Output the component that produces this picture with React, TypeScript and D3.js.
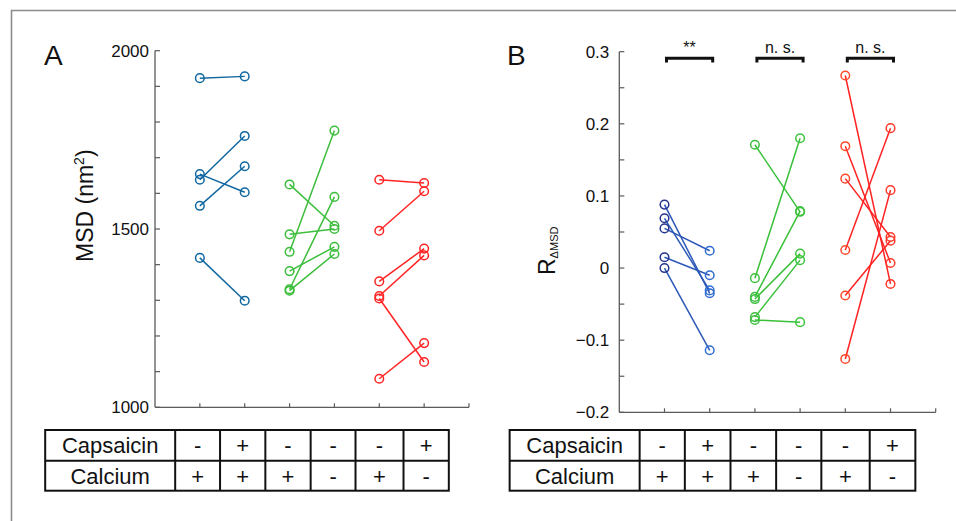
import React from "react";
import * as d3 from "d3";

// ---------- data ----------
const groupPositions = [1, 2, 3, 4, 5, 6];

// Panel A: MSD (nm^2), paired before/after values
const blueA_pre = [1923, 1654, 1638, 1565, 1419];
const blueA_post = [1928, 1603, 1761, 1676, 1299];
const greenA_pre = [1625, 1485, 1436, 1382, 1331, 1327];
const greenA_post = [1509, 1500, 1776, 1450, 1590, 1430];
const redA_pre = [1638, 1495, 1353, 1312, 1305, 1080];
const redA_post = [1629, 1606, 1445, 1426, 1127, 1180];

// Panel B: R_ΔMSD
const blueB_pre = [0.088, 0.069, 0.055, 0.015, 0.0];
const blueB_post = [-0.035, -0.031, 0.024, -0.01, -0.114];
const greenB_pre = [0.171, -0.014, -0.04, -0.043, -0.068, -0.072];
const greenB_post = [0.078, 0.18, 0.079, 0.02, 0.011, -0.075];
const redB_pre = [0.267, 0.169, 0.124, 0.025, -0.038, -0.126];
const redB_post = [-0.022, 0.007, 0.043, 0.194, 0.038, 0.108];

const yTicksA = [1000, 1500, 2000];
const yMinorA = [1000, 1100, 1200, 1300, 1400, 1500, 1600, 1700, 1800, 1900, 2000];
const yTicksB = [-0.2, -0.1, 0, 0.1, 0.2, 0.3];
const yMinorB = [-0.2, -0.15, -0.1, -0.05, 0, 0.05, 0.1, 0.15, 0.2, 0.25, 0.3];

const significance = ["**", "n. s.", "n. s."];
const rowLabels = ["Capsaicin", "Calcium"];
const capsaicinSigns = ["-", "+", "-", "-", "-", "+"];
const calciumSigns = ["+", "+", "+", "-", "+", "-"];

// ---------- styling ----------
const FONT = "Liberation Sans, Arial, Helvetica, sans-serif";
const AXIS = "#5a5a5a";

type Series = { pre: number[]; post: number[]; x0: number; x1: number; line: string; mPre: string; mPost: string };

const seriesA: Series[] = [
  { pre: blueA_pre, post: blueA_post, x0: groupPositions[0], x1: groupPositions[1], line: "#11679f", mPre: "#11679f", mPost: "#11679f" },
  { pre: greenA_pre, post: greenA_post, x0: groupPositions[2], x1: groupPositions[3], line: "#3cbe3c", mPre: "#3cbe3c", mPost: "#3cbe3c" },
  { pre: redA_pre, post: redA_post, x0: groupPositions[4], x1: groupPositions[5], line: "#ff2424", mPre: "#ff2424", mPost: "#ff2424" },
];
const seriesB: Series[] = [
  { pre: blueB_pre, post: blueB_post, x0: groupPositions[0], x1: groupPositions[1], line: "#2c58b8", mPre: "#26358f", mPost: "#2f6dd0" },
  { pre: greenB_pre, post: greenB_post, x0: groupPositions[2], x1: groupPositions[3], line: "#38c038", mPre: "#3fbe3f", mPost: "#3cc43c" },
  { pre: redB_pre, post: redB_post, x0: groupPositions[4], x1: groupPositions[5], line: "#ff2222", mPre: "#ff4a2a", mPost: "#ff3a2a" },
];

const colEdges = [0.45, 1.45, 2.46, 3.47, 4.47, 5.54, 6.55];

function Table({ x }: { x: d3.ScaleLinear<number, number> }) {
  const top = 430, mid = 460.7, bot = 490.7;
  const left = x(colEdges[0]) - 130;
  const right = x(colEdges[colEdges.length - 1]);
  const labelCx = (left + x(colEdges[0])) / 2;
  const rows = [capsaicinSigns, calciumSigns];
  const rowCy = [(top + mid) / 2, (mid + bot) / 2];
  return (
    <g>
      <rect x={left} y={top} width={right - left} height={bot - top} fill="none" stroke="#111" strokeWidth={2} />
      <line x1={left} x2={right} y1={mid} y2={mid} stroke="#111" strokeWidth={2} />
      {colEdges.slice(0, -1).map((e, i) => (
        <line key={i} x1={x(e)} x2={x(e)} y1={top} y2={bot} stroke="#111" strokeWidth={2} />
      ))}
      {rowLabels.map((l, i) => (
        <text key={l} x={labelCx} y={rowCy[i]} dy="0.36em" textAnchor="middle" fontSize={22} fontFamily={FONT} fill="#111">
          {l}
        </text>
      ))}
      {rows.map((signs, r) =>
        signs.map((s, i) => (
          <text key={r + "-" + i} x={(x(colEdges[i]) + x(colEdges[i + 1])) / 2} y={rowCy[r]} dy="0.36em" textAnchor="middle" fontSize={22} fontFamily={FONT} fill="#111">
            {s}
          </text>
        ))
      )}
    </g>
  );
}

function Points({ series, x, y }: { series: Series[]; x: d3.ScaleLinear<number, number>; y: d3.ScaleLinear<number, number> }) {
  const lineGen = d3.line<[number, number]>().x((d) => x(d[0])).y((d) => y(d[1]));
  return (
    <g>
      {series.map((s, si) => (
        <g key={si}>
          {s.pre.map((v, i) => (
            <path key={"l" + i} d={lineGen([[s.x0, v], [s.x1, s.post[i]]]) || ""} stroke={s.line} strokeWidth={1.5} fill="none" />
          ))}
          {s.pre.map((v, i) => (
            <circle key={"a" + i} cx={x(s.x0)} cy={y(v)} r={4.3} fill="none" stroke={s.mPre} strokeWidth={1.5} />
          ))}
          {s.post.map((v, i) => (
            <circle key={"b" + i} cx={x(s.x1)} cy={y(v)} r={4.3} fill="none" stroke={s.mPost} strokeWidth={1.5} />
          ))}
        </g>
      ))}
    </g>
  );
}

function Axes({ x, y, ticks, minor, fmt, labelGap }: { x: d3.ScaleLinear<number, number>; y: d3.ScaleLinear<number, number>; ticks: number[]; minor: number[]; fmt: (v: number) => string; labelGap: number }) {
  const [x0, x1] = x.range();
  const [yb, yt] = y.range();
  return (
    <g>
      <line x1={x0} x2={x0} y1={yb} y2={yt} stroke={AXIS} strokeWidth={1.3} />
      <line x1={x0} x2={x1} y1={yb} y2={yb} stroke={AXIS} strokeWidth={1.3} />
      <line x1={x1} x2={x1} y1={yb} y2={yb - 4} stroke={AXIS} strokeWidth={1.2} />
      {minor.map((t) => (
        <line key={"m" + t} x1={x0} x2={x0 + 5} y1={y(t)} y2={y(t)} stroke={AXIS} strokeWidth={1.2} />
      ))}
      {groupPositions.map((p) => (
        <line key={"x" + p} x1={x(p)} x2={x(p)} y1={yb} y2={yb - 4} stroke={AXIS} strokeWidth={1.2} />
      ))}
      {ticks.map((t) => (
        <text key={"t" + t} x={x0 - labelGap} y={y(t)} dy="0.36em" textAnchor="end" fontSize={17} fontFamily={FONT} fill="#111">
          {fmt(t)}
        </text>
      ))}
    </g>
  );
}

export default function App() {
  const xA = d3.scaleLinear().domain([0, 7]).range([155, 469]);
  const yA = d3.scaleLinear().domain([1000, 2000]).range([407.3, 50.7]);
  const xB = d3.scaleLinear().domain([0, 7]).range([619.3, 935.7]);
  const yB = d3.scaleLinear().domain([-0.2, 0.3]).range([412.3, 51.7]);

  const fmtA = (v: number) => String(v);
  const fmtB = (v: number) => (v < 0 ? "\u2212" + d3.format("")(Math.abs(v)) : d3.format("")(v));

  const brackets = [
    [groupPositions[0], groupPositions[1]],
    [groupPositions[2], groupPositions[3]],
    [groupPositions[4], groupPositions[5]],
  ];

  return (
    <svg width={956} height={521} style={{ position: "fixed", left: 0, top: 0, background: "#fff" }} fontFamily={FONT}>
      <rect x={0} y={0} width={956} height={521} fill="#fff" />
      <path d="M11.5,521 V10.5 H956" fill="none" stroke="#8c8c8c" strokeWidth={1.6} />

      {/* Panel A */}
      <text x={44} y={65} fontSize={28} fill="#111">A</text>
      <Axes x={xA} y={yA} ticks={yTicksA} minor={yMinorA} fmt={fmtA} labelGap={6} />
      <Points series={seriesA} x={xA} y={yA} />
      <text transform="translate(93,262) rotate(-90)" fontSize={23} fill="#111">
        MSD (nm<tspan fontSize={14} dy={-9}>2</tspan><tspan dy={9}>)</tspan>
      </text>
      <Table x={xA} />

      {/* Panel B */}
      <text x={507} y={65} fontSize={28} fill="#111">B</text>
      <Axes x={xB} y={yB} ticks={yTicksB} minor={yMinorB} fmt={fmtB} labelGap={10} />
      <Points series={seriesB} x={xB} y={yB} />
      <text transform="translate(555,275) rotate(-90)" fontSize={23} fill="#111">
        R<tspan fontSize={11} dy={3}>ΔMSD</tspan>
      </text>
      {brackets.map(([a, b], i) => {
        const x1 = xB(a) + 2, x2 = xB(b) + 3;
        return (
          <g key={i}>
            <path d={`M${x1},62.5 V58.3 H${x2} V62.5`} fill="none" stroke="#111" strokeWidth={3} />
            <text x={(x1 + x2) / 2} y={53} textAnchor="middle" fontSize={16} fill="#111">
              {significance[i]}
            </text>
          </g>
        );
      })}
      <Table x={xB} />
    </svg>
  );
}
